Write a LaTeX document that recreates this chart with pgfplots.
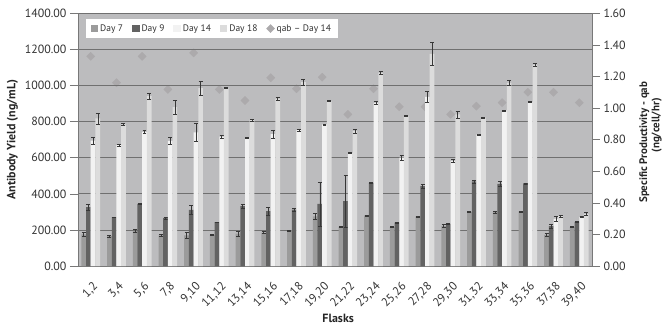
\documentclass[border=0pt]{standalone}
\usepackage{fontspec}
\setmainfont{PT Sans}
\usepackage{pgfplots}
\pgfplotsset{compat=1.18}
\usepackage{pgfplotstable}

\definecolor{bgcol}{RGB}{188,188,190}
\definecolor{gridcol}{RGB}{112,112,112}
\definecolor{axcol}{RGB}{120,120,120}
\definecolor{dseven}{RGB}{155,155,155}
\definecolor{dnine}{RGB}{98,98,98}
\definecolor{dfourteen}{RGB}{242,242,242}
\definecolor{deighteen}{RGB}{220,220,220}
\definecolor{qabcol}{RGB}{172,170,172}
\definecolor{errcol}{RGB}{55,55,55}
\definecolor{txtcol}{RGB}{50,50,50}

\pgfplotstableread{
x d7 e7 d9 e9 d14 e14 d18 e18 q
0 175 12 326 15 695 18 818 30 1.327
1 166 5 271 2 669 6 785 6 1.160
2 194 8 344 3 743 8 941 15 1.327
3 170 5 265 3 693 18 880 40 1.118
4 170 15 311 25 740 50 985 40 1.349
5 173 4 243 2 717 8 987 3 1.118
6 180 15 332 10 712 4 809 6 1.048
7 185 6 304 20 730 20 927 10 1.192
8 197 3 313 8 753 6 1018 18 1.122
9 275 15 344 122 785 3 913 3 1.195
10 216 3 359 144 625 3 748 12 0.960
11 280 3 460 3 904 8 1070 10 1.122
12 216 3 240 3 601 15 831 3 1.008
13 275 3 442 12 937 30 1175 65 1.008
14 221 8 234 3 583 8 840 20 0.960
15 302 3 469 8 729 3 822 3 1.012
16 299 6 455 15 862 3 1015 15 1.034
17 302 3 458 3 908 3 1116 8 1.100
18 173 10 221 10 262 12 276 3 1.100
19 216 3 243 3 271 3 288 8 1.034
}\data

\pgfplotsset{
  sqlegend/.style={legend image code/.code={\fill[##1] (0pt,-3.5pt) rectangle (7.5pt,4pt);}},
  errstyle/.style={error bars/.cd, y dir=both, y explicit,
    error bar style={draw=errcol, line width=0.5pt},
    error mark options={rotate=90, mark size=2pt, draw=errcol, line width=0.5pt}},
}

\begin{document}
\begin{tikzpicture}
\begin{axis}[
  scale only axis, width=517pt, height=254.2pt,
  xmin=-0.5, xmax=19.5, ymin=0, ymax=1.6,
  hide x axis, axis y line*=right,
  axis background/.style={fill=bgcol},
  y axis line style={draw=axcol, line width=0.6pt},
  ytick={0,0.2,0.4,0.6,0.8,1.0,1.2,1.4,1.6},
  tick align=outside, major tick length=8pt,
  ytick style={draw=axcol, line width=0.6pt},
  yticklabel style={font=\fontsize{12}{14}\selectfont, text=txtcol},
  /pgf/number format/.cd, fixed, fixed zerofill, precision=2, assume math mode=true,
]
\addplot[qabcol, only marks, mark=square*, mark size=2.9pt, mark options={rotate=45, fill=qabcol, draw=none}] table[x=x, y=q]{\data};
\end{axis}
\begin{axis}[
  scale only axis, width=517pt, height=254.2pt,
  xmin=-0.5, xmax=19.5, ymin=0, ymax=1400,
  axis x line*=bottom, axis y line*=left,
  axis line style={draw=axcol, line width=0.6pt},
  ybar=0pt, bar width=4.7pt,
  ymajorgrids, grid style={draw=gridcol, line width=0.8pt},
  ytick={0,200,400,600,800,1000,1200,1400},
  tick align=outside, major tick length=8pt,
  ytick style={draw=axcol, line width=0.6pt},
  xtick={0,...,19},
  xticklabels={{1,2},{3,4},{5,6},{7,8},{9,10},{11,12},{13,14},{15,16},{17,18},{19,20},{21,22},{23,24},{25,26},{27,28},{29,30},{31,32},{33,34},{35,36},{37,38},{39,40}},
  x tick style={draw=none},
  extra x ticks={-0.5,0.5,1.5,2.5,3.5,4.5,5.5,6.5,7.5,8.5,9.5,10.5,11.5,12.5,13.5,14.5,15.5,16.5,17.5,18.5,19.5},
  extra x tick labels={},
  extra x tick style={major tick length=7pt, tick style={draw=axcol, line width=0.6pt}},
  xticklabel style={rotate=45, anchor=north east, font=\fontsize{12}{14}\selectfont, text=txtcol, inner sep=1pt, xshift=-3pt, yshift=-5pt},
  yticklabel style={font=\fontsize{12}{14}\selectfont, text=txtcol},
  /pgf/number format/.cd, fixed, fixed zerofill, precision=2, 1000 sep={}, assume math mode=true,
  /pgfplots/.cd,
  legend columns=5,
  legend style={at={(axis description cs:0.0149,0.976)}, anchor=north west, fill=white, draw=none,
    font=\fontsize{9.5}{11}\selectfont, text=txtcol, inner xsep=5pt, inner ysep=3pt,
    /tikz/every even column/.append style={column sep=7pt}},
  legend cell align=left,
]
\addplot[fill=dseven, draw=none, sqlegend, errstyle] table[x=x, y=d7, y error=e7]{\data};
\addplot[fill=dnine, draw=none, sqlegend, errstyle] table[x=x, y=d9, y error=e9]{\data};
\addplot[fill=dfourteen, draw=none, sqlegend, errstyle] table[x=x, y=d14, y error=e14]{\data};
\addplot[fill=deighteen, draw=none, sqlegend, errstyle] table[x=x, y=d18, y error=e18]{\data};
\addlegendimage{legend image code/.code={\fill[qabcol] (0pt,0pt) -- (4pt,4pt) -- (8pt,0pt) -- (4pt,-4pt) -- cycle;}}
\legend{Day 7, Day 9, Day 14, Day 18, qab -- Day 14}
\end{axis}
\node[rotate=90, font=\bfseries\fontsize{12}{14}\selectfont, text=black!85] at (-65.8pt,127.1pt) {Antibody Yield (ng/mL)};
\node[font=\bfseries\fontsize{12}{14}\selectfont, text=black!85] at (261.7pt,-52.5pt) {Flasks};
\node[rotate=90, font=\bfseries\fontsize{11}{13}\selectfont, text=black!85] at (569.5pt,124.5pt) {Specific Productivity - qab};
\node[rotate=90, font=\bfseries\fontsize{11}{13}\selectfont, text=black!85] at (581.8pt,141.5pt) {(ng/cell/hr)};
\path[use as bounding box] (-78.3pt,-58.5pt) rectangle (586.7pt,267.5pt);
\end{tikzpicture}
\end{document}
